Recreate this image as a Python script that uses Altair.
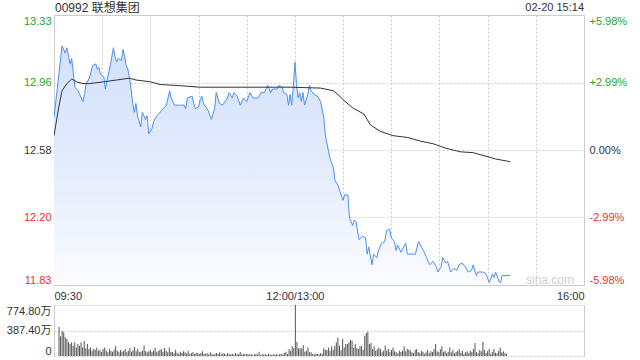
import altair as alt
import pandas as pd

# ---------------- data ----------------
title_text = "00992 联想集团"
stamp_text = "02-20 15:14"
watermark_text = "sina.com"

PREV_CLOSE = 12.58
price_ticks = [13.3323, 12.9561, 12.58, 12.2039, 11.8277]
x_ticks = [0, 30, 60, 90, 120, 150, 180, 210, 240, 270, 300, 330]
x_label_min = [0, 150, 330]
x_label_txt = ["09:30", "12:00/13:00", "16:00"]
vol_ticks = [0, 387.4, 774.8]

# trading minutes since 09:30 (lunch break removed) and price
price_min = [0, 5, 7, 8, 10, 11, 12, 13, 15, 16, 18, 19, 20, 22, 24, 26, 27, 28, 29, 31,
             32, 33, 35, 37, 38, 39, 40, 42, 43, 44, 45, 46, 47, 48, 49, 50, 51, 52, 54, 55,
             57, 58, 59, 61, 62, 64, 66, 68, 70, 72, 73, 75, 78, 81, 82, 83, 86, 87, 88, 90,
             91, 92, 93, 96, 98, 100, 101, 103, 105, 108, 109, 111, 112, 114, 116, 118, 120, 122, 124, 127,
             129, 131, 133, 135, 136, 139, 140, 142, 143, 145, 146, 147, 148, 149, 150, 151, 152, 153, 154, 155,
             156, 158, 159, 160, 162, 164, 166, 168, 169, 171, 172, 174, 175, 177, 178, 180, 181, 183, 184, 186,
             187, 188, 190, 192, 194, 195, 196, 198, 199, 201, 202, 204, 206, 207, 209, 210, 212, 213, 214, 216,
             219, 220, 225, 227, 230, 232, 234, 236, 238, 239, 241, 242, 244, 245, 247, 249, 251, 252, 254, 256,
             258, 260, 261, 263, 264, 267, 269, 271, 273, 274, 275, 277, 278, 279, 284]
price_val = [12.76, 13.16, 13.12, 13.15, 13.06, 13.09, 13.01, 12.93, 12.91, 12.89, 12.85, 12.89, 12.95, 12.98, 13.05, 13.06, 13.03, 13.04, 13.00, 12.99,
             12.92, 12.97, 13.05, 13.15, 13.10, 13.07, 13.09, 13.08, 13.14, 13.10, 13.05, 13.03, 12.98, 12.92, 12.84, 12.79, 12.84, 12.77, 12.71, 12.79,
             12.75, 12.77, 12.67, 12.70, 12.74, 12.77, 12.79, 12.81, 12.83, 12.91, 12.87, 12.83, 12.83, 12.83, 12.81, 12.87, 12.88, 12.84, 12.81, 12.82,
             12.86, 12.88, 12.84, 12.80, 12.75, 12.81, 12.90, 12.84, 12.83, 12.87, 12.90, 12.87, 12.90, 12.88, 12.83, 12.87, 12.85, 12.90, 12.87, 12.87,
             12.90, 12.90, 12.94, 12.90, 12.92, 12.92, 12.94, 12.93, 12.90, 12.89, 12.83, 12.89, 12.83, 12.93, 13.07, 12.95, 12.87, 12.90, 12.85, 12.90,
             12.83, 12.89, 12.94, 12.91, 12.89, 12.88, 12.85, 12.76, 12.66, 12.57, 12.53, 12.48, 12.41, 12.38, 12.35, 12.30, 12.33, 12.33, 12.20, 12.16,
             12.19, 12.18, 12.08, 12.10, 12.09, 12.00, 12.04, 11.94, 12.00, 11.98, 12.02, 12.06, 12.07, 12.13, 12.14, 12.09, 12.07, 12.02, 12.05, 12.01,
             12.06, 12.00, 12.00, 12.07, 12.02, 11.98, 11.94, 11.96, 11.93, 11.90, 11.93, 11.98, 11.95, 11.96, 11.90, 11.92, 11.91, 11.94, 11.95, 11.93,
             11.90, 11.91, 11.94, 11.88, 11.90, 11.90, 11.89, 11.84, 11.89, 11.87, 11.90, 11.85, 11.84, 11.88, 11.88]

avg_min = [0, 3, 5, 8, 11, 14, 18, 22, 31, 39, 47, 51, 60, 66, 76, 91, 112, 147, 166, 174,
           178, 180, 186, 193, 197, 203, 211, 220, 228, 236, 244, 253, 261, 267, 275, 284]
avg_val = [12.66, 12.82, 12.91, 12.95, 12.976, 12.96, 12.95, 12.95, 12.96, 12.97, 12.98, 12.97, 12.96, 12.945, 12.94, 12.93, 12.93, 12.93, 12.925, 12.91,
           12.88, 12.86, 12.815, 12.78, 12.72, 12.685, 12.66, 12.65, 12.63, 12.615, 12.59, 12.57, 12.565, 12.55, 12.53, 12.515]

# volume per minute, in 万
volume = [445, 300, 385, 360, 283, 258, 218, 182, 207, 157,
          207, 131, 182, 157, 207, 131, 233, 117, 182, 106,
          131, 81, 106, 96, 131, 81, 96, 66, 106, 131,
          81, 56, 106, 76, 66, 96, 152, 81, 56, 91,
          66, 76, 106, 56, 81, 121, 66, 91, 136, 71,
          106, 61, 66, 81, 161, 76, 56, 71, 96, 61,
          81, 121, 56, 76, 91, 106, 66, 121, 81, 56,
          131, 61, 66, 41, 96, 51, 36, 66, 46, 71,
          56, 41, 81, 36, 46, 61, 31, 51, 41, 36,
          46, 71, 31, 36, 41, 26, 56, 31, 21, 36,
          46, 31, 56, 26, 41, 36, 21, 46, 31, 26,
          36, 21, 41, 26, 31, 61, 21, 36, 26, 31,
          26, 21, 31, 16, 26, 36, 21, 66, 16, 31,
          21, 26, 16, 36, 21, 16, 26, 21, 31, 16,
          26, 36, 21, 46, 66, 31, 106, 81, 147, 121,
          774.8, 218, 117, 117, 117, 167, 66, 81, 131, 56,
          56, 30, 25, 35, 30, 25, 40, 35, 117, 96,
          91, 131, 81, 147, 96, 157, 207, 278, 157, 91,
          258, 131, 182, 182, 207, 248, 233, 131, 182, 121,
          106, 147, 157, 96, 309, 349, 369, 182, 197, 106,
          147, 81, 101, 131, 106, 56, 81, 157, 81, 106,
          66, 91, 131, 71, 56, 41, 81, 61, 81, 147,
          71, 106, 96, 81, 56, 46, 96, 106,
          61, 46, 81, 66, 36, 56, 91, 41, 71, 61, 106,
          182,
          71, 56, 101, 147, 61, 81, 46, 66, 131, 56,
          91, 41, 61, 76, 106, 51, 81, 36, 56, 71,
          46, 81, 61, 106, 197, 56, 41, 91, 71, 218,
          91, 46, 71, 106, 36, 61, 106, 51, 41, 81,
          131, 56, 71, 46, 36]

# ---------------- styles ----------------
FONT = "Liberation Sans, Noto Sans CJK SC, sans-serif"
GREEN = "#26a626"
RED = "#f03030"
TEXT = "#333333"
GRID = "#cccccc"
BORDER = "#cccccc"
BLUE = "#4d8ef5"

pdf = pd.DataFrame({"m": price_min, "p": price_val})
adf = pd.DataFrame({"m": avg_min, "a": avg_val})
vdf = pd.DataFrame({"m": list(range(len(volume))), "v": volume})

x_expr = " : ".join(
    [f"datum.value == {m} ? '{t}'" for m, t in zip(x_label_min, x_label_txt)]
) + " : ''"

label_color = {
    "condition": [
        {"test": f"datum.value > {PREV_CLOSE + 0.005}", "value": GREEN},
        {"test": f"datum.value < {PREV_CLOSE - 0.005}", "value": RED},
    ],
    "value": TEXT,
}

pct_expr = (
    f"(datum.value > {PREV_CLOSE + 0.005} ? '+' : datum.value < {PREV_CLOSE - 0.005} ? '-' : '')"
    f" + format(abs(datum.value / {PREV_CLOSE} - 1), '.2%')"
)

xscale = alt.Scale(domain=[0, 330], nice=False, zero=False)
yscale = alt.Scale(domain=[price_ticks[-1], price_ticks[0]], nice=False, zero=False)

x_enc = alt.X(
    "m:Q", scale=xscale, title=None,
    axis=alt.Axis(values=x_ticks, labelExpr=x_expr, grid=True, gridColor=GRID,
                  gridDash=[2, 2], ticks=False, domain=False, labelFlush=True,
                  labelOverlap=False, labelPadding=5, title=None),
)

left_axis = alt.Axis(values=price_ticks, format=".2f", grid=True, gridColor=GRID,
                     gridDash=[2, 2], ticks=False, domain=False, labelFlush=True,
                     labelColor=label_color, labelPadding=3, title=None)
right_axis = alt.Axis(orient="right", values=price_ticks, labelExpr=pct_expr, grid=False,
                      ticks=False, domain=False, labelFlush=True, labelColor=label_color,
                      labelPadding=5, title=None)

gradient = alt.Gradient(
    gradient="linear",
    stops=[alt.GradientStop(color="#d2e1fa", offset=0),
           alt.GradientStop(color="#e5edfc", offset=0.55),
           alt.GradientStop(color="#fbfcff", offset=1)],
    x1=0, x2=0, y1=0, y2=1,
)

area = alt.Chart(pdf).mark_area(color=gradient, clip=True).encode(
    x=x_enc,
    y=alt.Y("p:Q", scale=yscale, axis=left_axis),
    y2=alt.datum(price_ticks[-1]),
)
line = alt.Chart(pdf).mark_line(color=BLUE, strokeWidth=1, clip=True).encode(
    x=x_enc, y=alt.Y("p:Q", scale=yscale, axis=None))
avg = alt.Chart(adf).mark_line(color="#333333", strokeWidth=1, clip=True).encode(
    x=x_enc, y=alt.Y("a:Q", scale=yscale, axis=right_axis))

title_t = alt.Chart(pd.DataFrame({"t": [title_text]})).mark_text(
    align="left", baseline="middle", font=FONT, fontSize=12, color=TEXT
).encode(x=alt.value(1), y=alt.value(-7), text="t:N")
stamp_t = alt.Chart(pd.DataFrame({"t": [stamp_text]})).mark_text(
    align="right", baseline="middle", font=FONT, fontSize=11, color=TEXT
).encode(x=alt.value(530), y=alt.value(-7), text="t:N")
water_t = alt.Chart(pd.DataFrame({"t": [watermark_text]})).mark_text(
    align="right", baseline="middle", font=FONT, fontSize=12, color="#cfcfcf"
).encode(x=alt.value(520), y=alt.value(265), text="t:N")

main = alt.layer(area, line, avg, water_t, title_t, stamp_t).resolve_axis(
    y="independent").properties(width=530, height=270)

vx = alt.X("m:Q", scale=xscale, axis=None)
vscale = alt.Scale(domain=[0, vol_ticks[-1]], nice=False, zero=True)
vol_expr = "datum.value == 0 ? '0' : format(datum.value, '.2f') + '万'"
vol_left = alt.Axis(values=vol_ticks, labelExpr=vol_expr, grid=True, gridColor=GRID,
                    gridDash=[2, 2], ticks=False, domain=True, domainColor=BORDER,
                    labelFlush=True, labelPadding=3, title=None)
vol_right = alt.Axis(orient="right", labels=False, ticks=False, grid=False, domain=True,
                     domainColor=BORDER, title=None)

bars = alt.Chart(vdf).mark_bar(width=1, color="#555555").encode(
    x=vx, y=alt.Y("v:Q", scale=vscale, axis=vol_left))
bars_r = alt.Chart(vdf).mark_bar(width=1, opacity=0).encode(
    x=vx, y=alt.Y("v:Q", scale=vscale, axis=vol_right))

vol_chart = alt.layer(bars, bars_r).resolve_axis(y="independent").properties(
    width=530, height=51, view=alt.ViewBackground(stroke="transparent"))

chart = alt.vconcat(main, vol_chart, spacing=2).resolve_scale(
    x="independent", y="independent"
).properties(
    padding={"left": 5, "top": 1, "right": 5, "bottom": 0},
    background="white",
).configure_view(stroke=BORDER).configure_axis(
    labelFont=FONT, labelFontSize=11, labelColor=TEXT
)

chart.save("out.html", embed_options={"renderer": "svg", "actions": False})
